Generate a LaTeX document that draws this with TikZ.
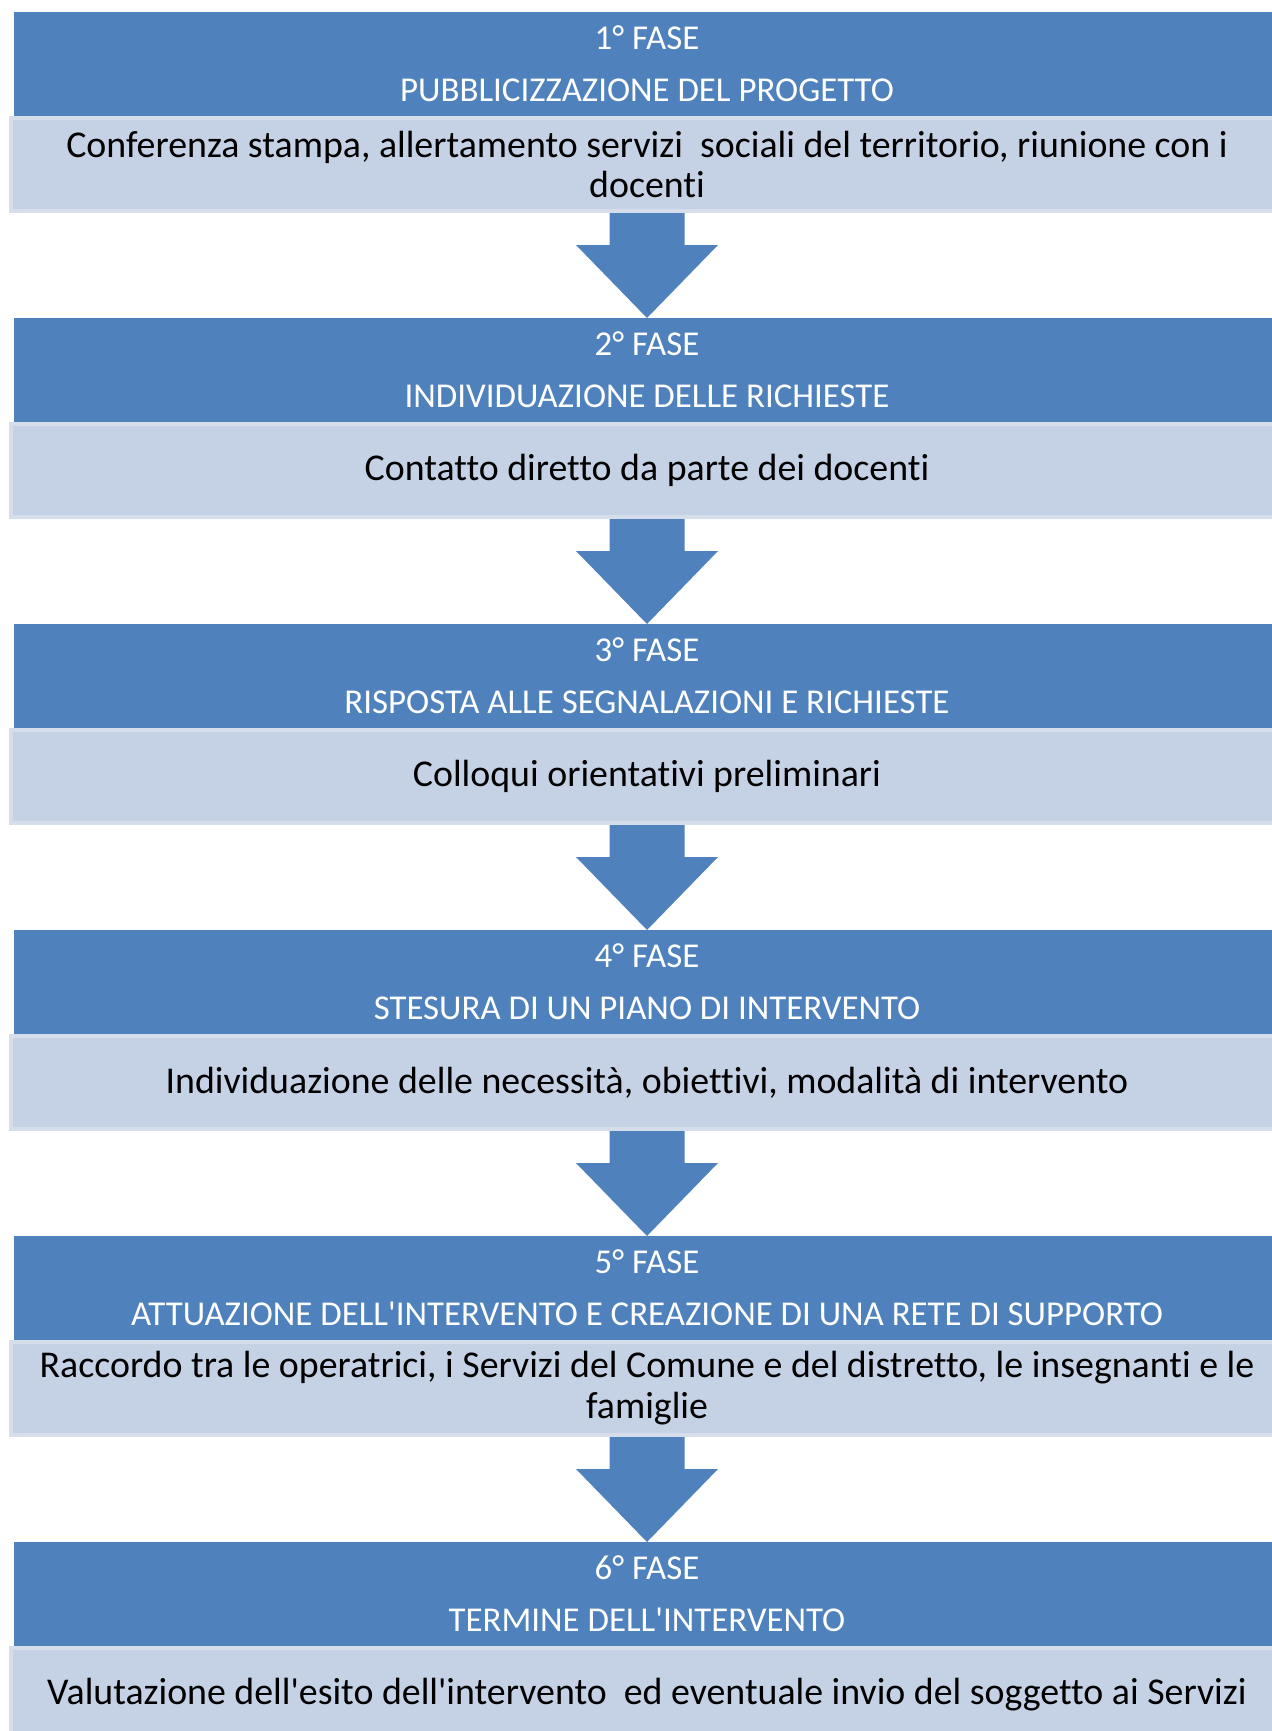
\documentclass[tikz,border=0pt]{standalone}
\usepackage{fontspec}
\setmainfont{Carlito}[Ligatures=NoCommon]
\usetikzlibrary{calc}
\definecolor{fasedark}{HTML}{4F81BD}
\definecolor{faselight}{HTML}{C5D1E4}
\definecolor{faserim}{HTML}{D6DEEC}
\begin{document}
\begin{tikzpicture}[x=1bp,y=-1bp,
    head node/.style={rectangle,fill=fasedark,text=white,inner sep=0,outer sep=0,minimum width=1266bp,minimum height=104bp,align=center,font=\fontsize{35}{52}\selectfont},
    body node/.style={rectangle,fill=faselight,draw=faserim,line width=4bp,inner sep=0,outer sep=0,minimum width=1272bp,minimum height=93bp,align=center,font=\fontsize{38}{41}\selectfont},
    phase arrow/.style={fill=fasedark,draw=none,to path={
        ($(\tikztostart.south)+(-37.5,2)$) -- ($(\tikztostart.south)+(-37.5,34)$)
        -- ($(\tikztostart.south)+(-71,34)$) -- (\tikztotarget.north)
        -- ($(\tikztostart.south)+(71,34)$) -- ($(\tikztostart.south)+(37.5,34)$)
        -- ($(\tikztostart.south)+(37.5,2)$) -- cycle}}]
    \useasboundingbox (0,0) rectangle (1271,1731);

    \node[body node] at (647,164.5) (l1) {Conferenza stampa, allertamento servizi\ \ sociali del territorio, riunione con i\\docenti};
    \node[body node] at (647,470.5) (l2) {Contatto diretto da parte dei docenti};
    \node[body node] at (647,776.5) (l3) {Colloqui orientativi preliminari};
    \node[body node] at (647,1082.5) (l4) {Individuazione delle necessità, obiettivi, modalità di intervento};
    \node[body node] at (647,1388.5) (l5) {Raccordo tra le operatrici, i Servizi del Comune e del distretto, le insegnanti e le\\famiglie};
    \node[body node] at (647,1694.5) (l6) {Valutazione dell\textquotesingle esito dell\textquotesingle intervento\ \ ed eventuale invio del soggetto ai Servizi};

    \node[head node] at (647,64) (h1) {1° FASE\\PUBBLICIZZAZIONE DEL PROGETTO};
    \node[head node] at (647,370) (h2) {2° FASE\\INDIVIDUAZIONE DELLE RICHIESTE};
    \node[head node] at (647,676) (h3) {3° FASE\\RISPOSTA ALLE SEGNALAZIONI E RICHIESTE};
    \node[head node] at (647,982) (h4) {4° FASE\\STESURA DI UN PIANO DI INTERVENTO};
    \node[head node] at (647,1288) (h5) {5° FASE\\ATTUAZIONE DELL\textquotesingle INTERVENTO E CREAZIONE DI UNA RETE DI SUPPORTO};
    \node[head node] at (647,1594) (h6) {6° FASE\\TERMINE DELL\textquotesingle INTERVENTO};

    \path
        (l1) edge[phase arrow] (h2)
        (l2) edge[phase arrow] (h3)
        (l3) edge[phase arrow] (h4)
        (l4) edge[phase arrow] (h5)
        (l5) edge[phase arrow] (h6)
        ;
\end{tikzpicture}
\end{document}
